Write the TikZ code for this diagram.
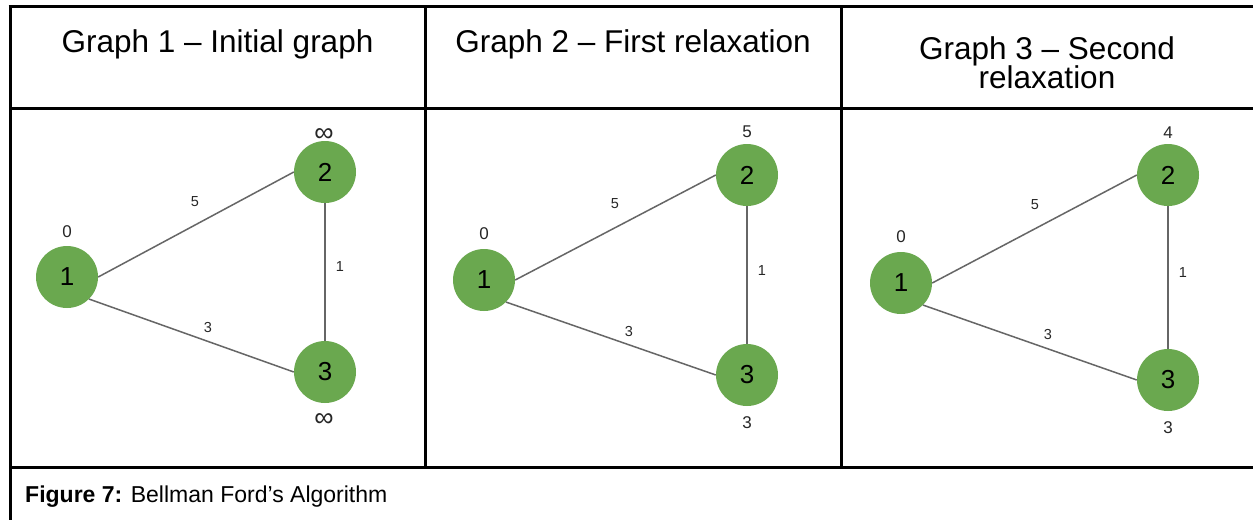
\documentclass[tikz,border=0pt]{standalone}
\usepackage{fontspec}
\setmainfont{Liberation Sans}
\definecolor{ngreen}{HTML}{6AA84F}
\definecolor{egray}{HTML}{666666}
\begin{document}
\begin{tikzpicture}[x=1pt,y=-1pt,
  vert/.style={circle, fill=ngreen, minimum size=62pt, inner sep=0pt, font=\fontsize{26}{30}\selectfont},
  edge/.style={draw=egray, line width=1.5pt},
  wlab/.style={font=\fontsize{14.5}{16}\selectfont, inner sep=0pt, text=black!85},
  dlab/.style={font=\fontsize{17}{20}\selectfont, inner sep=0pt, text=black!85},
  inflab/.style={font=\fontsize{27}{30}\selectfont, inner sep=0pt, text=black!85},
  head/.style={font=\fontsize{31.5}{36}\selectfont, anchor=base, inner sep=0pt},
  rule/.style={line width=3pt, black}]
\fill[white] (0,0) rectangle (1253,520);
\useasboundingbox (0,0) rectangle (1253,520);

% table rules
\draw[rule] (10,5) -- (10,520);
\draw[rule] (8.5,6.5) -- (1253,6.5);
\draw[rule] (10,108) -- (1253,108);
\draw[rule] (10,467) -- (1253,467);
\draw[rule] (425,6.5) -- (425,467);
\draw[rule] (841,6.5) -- (841,467);

% headers
\node[head] (h1) at (217.5,52) {Graph 1 – Initial graph};
\node[head] (h2) at (633,52) {Graph 2 – First relaxation};
\node[head] (h3a) at (1047,59) {Graph 3 – Second};
\node[head] (h3b) at (1047,88) {relaxation};

% caption
\node[anchor=base west, inner sep=0pt, font=\fontsize{23}{28}\selectfont] (cap) at (25,502) {\textbf{Figure 7:} Bellman Ford’s Algorithm};

% Graph 1
\node[vert] (a1) at (67,277) {1};
\node[vert] (a2) at (325,172) {2};
\node[vert] (a3) at (325,372) {3};
\draw[edge] (a1.east) -- (a2.west);
\draw[edge] (a1.south east) -- (a3.west);
\draw[edge] (a2.south) -- (a3.north);
\node[wlab] (a12) at (195,202) {5};
\node[wlab] (a13) at (208,328) {3};
\node[wlab] (a23) at (340,267) {1};
\node[dlab] (ad1) at (67,232) {0};
\node[inflab] (ad2) at (324,135) {∞};
\node[inflab] (ad3) at (324,420) {∞};

% Graph 2
\node[vert] (b1) at (484,280) {1};
\node[vert] (b2) at (747,175) {2};
\node[vert] (b3) at (747,375) {3};
\draw[edge] (b1.east) -- (b2.west);
\draw[edge] (b1.south east) -- (b3.west);
\draw[edge] (b2.south) -- (b3.north);
\node[wlab] (b12) at (615,204) {5};
\node[wlab] (b13) at (629,332) {3};
\node[wlab] (b23) at (762,271) {1};
\node[dlab] (bd1) at (484,234) {0};
\node[dlab] (bd2) at (747,132) {5};
\node[dlab] (bd3) at (747,423) {3};

% Graph 3
\node[vert] (c1) at (901,283) {1};
\node[vert] (c2) at (1168,175) {2};
\node[vert] (c3) at (1168,380) {3};
\draw[edge] (c1.east) -- (c2.west);
\draw[edge] (c1.south east) -- (c3.west);
\draw[edge] (c2.south) -- (c3.north);
\node[wlab] (c12) at (1035,205) {5};
\node[wlab] (c13) at (1048,335) {3};
\node[wlab] (c23) at (1183,273) {1};
\node[dlab] (cd1) at (901,237) {0};
\node[dlab] (cd2) at (1168,133) {4};
\node[dlab] (cd3) at (1168,428) {3};
\end{tikzpicture}
\end{document}
